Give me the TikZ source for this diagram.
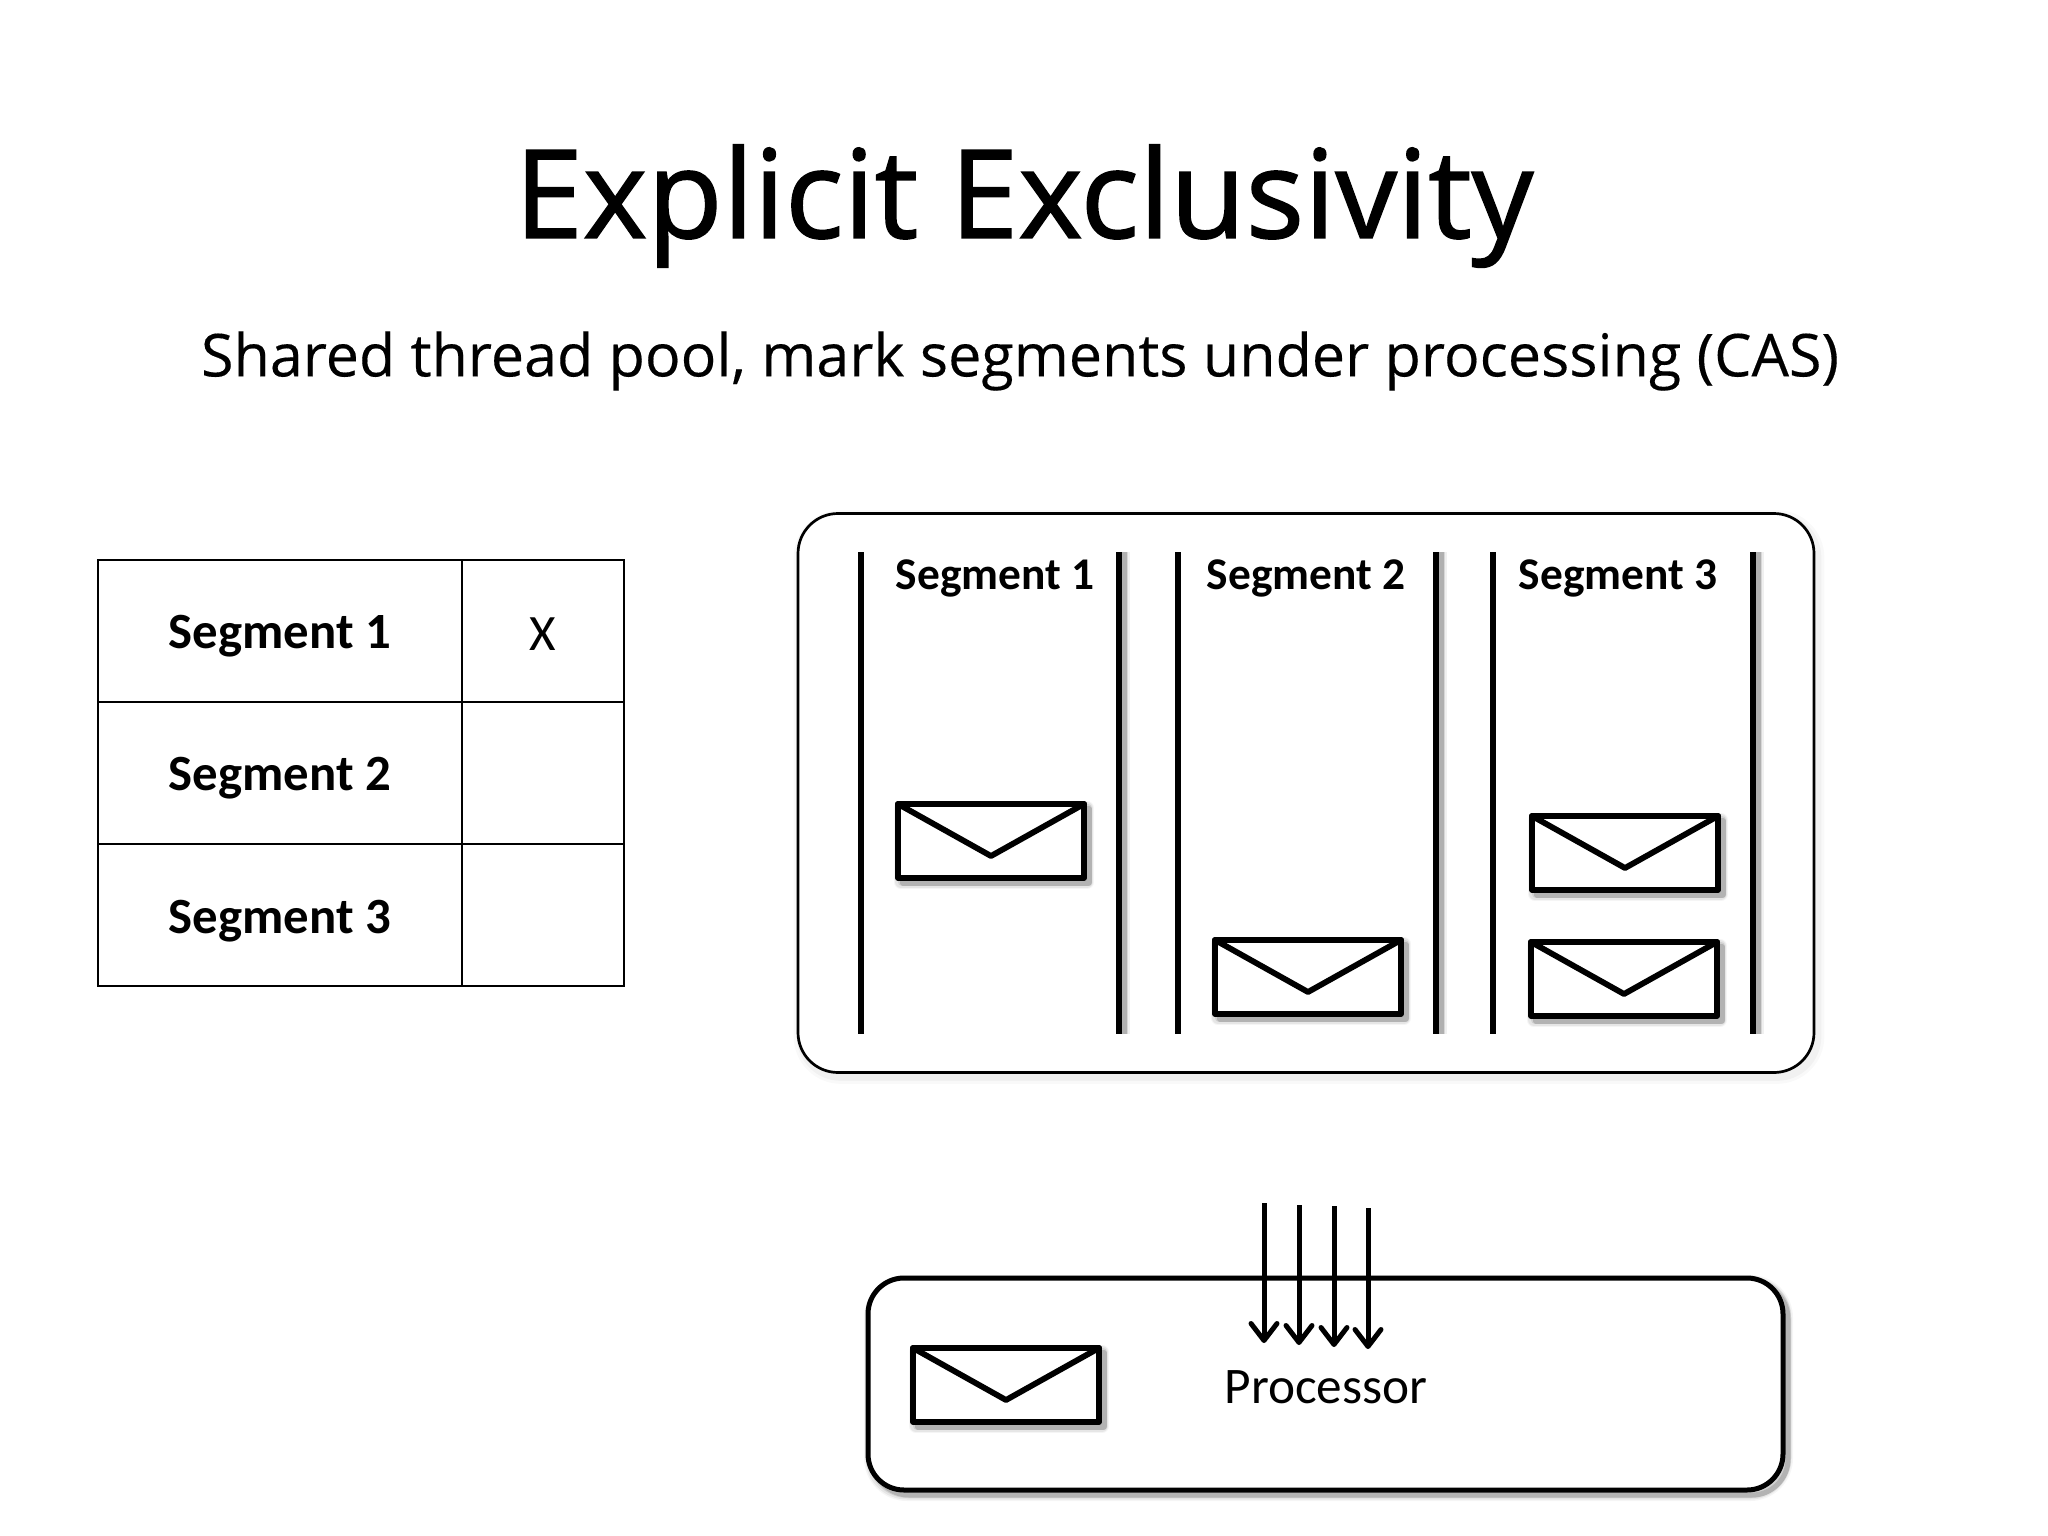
\documentclass[tikz,border=0pt]{standalone}
\usepackage{fontspec}
\setmainfont{Carlito}
\newfontfamily\titlefont{Open Sans}[FakeBold=1.2]
\newfontfamily\subfont{Open Sans}[FakeBold=0.25]
\usetikzlibrary{arrows.meta}
\tikzset{
  x=1pt,y=-1pt,
  softshadow/.style={
    preaction={draw=black,fill=none,opacity=.04,line width=#1+9pt,transform canvas={shift={(3pt,-4pt)}}},
    preaction={draw=black,fill=none,opacity=.06,line width=#1+6pt,transform canvas={shift={(3pt,-4pt)}}},
    preaction={draw=black,fill=none,opacity=.09,line width=#1+3pt,transform canvas={shift={(4pt,-4pt)}}},
    preaction={draw=black,fill=none,opacity=.14,line width=#1,transform canvas={shift={(5pt,-5pt)}}}},
  faintshadow/.style={
    preaction={draw=black,fill=none,opacity=.025,line width=#1+12pt,transform canvas={shift={(3pt,-4pt)}}},
    preaction={draw=black,fill=none,opacity=.03,line width=#1+6pt,transform canvas={shift={(3pt,-4pt)}}}},
  barshadow/.style={
    preaction={draw=black,opacity=.06,line width=#1+8pt,transform canvas={shift={(4pt,0pt)}}},
    preaction={draw=black,opacity=.1,line width=#1+4pt,transform canvas={shift={(4pt,0pt)}}},
    preaction={draw=black,opacity=.18,line width=#1,transform canvas={shift={(5pt,0pt)}}}},
  outerbox/.style={draw=black,fill=white,rounded corners=40pt,inner sep=0pt,outer sep=0pt,line width=2.7pt,minimum width=1016pt,minimum height=559pt,faintshadow=2.7pt},
  procbox/.style={draw=black,fill=white,rounded corners=36pt,inner sep=0pt,outer sep=0pt,line width=5pt,minimum width=915pt,minimum height=212pt,softshadow=5pt},
  cell/.style={draw=black,line width=2.8pt,inner sep=0pt,outer sep=0pt,minimum height=142pt},
  namecell/.style={cell,minimum width=364pt},
  markcell/.style={cell,minimum width=162pt},
  rowlabel/.style={font=\fontsize{50.8}{50.8}\selectfont\bfseries,inner sep=0pt},
  seglabel/.style={font=\fontsize{45.4}{45.4}\selectfont\bfseries,inner sep=0pt},
  env/.style={draw=black,fill=white,line width=5.8pt,line join=round,inner sep=0pt,outer sep=0pt,minimum width=186pt,minimum height=74pt,softshadow=5.8pt},
  flap/.style={draw=black,line width=5.8pt,line join=round,line cap=round},
  bar/.style={draw=black,line width=5.8pt},
  shadowbar/.style={bar,barshadow=5.8pt},
  thread/.style={draw=black,line width=5pt,-{Straight Barb[length=17pt,width=26pt,line width=5pt,round]}},
}
\newcommand{\envelope}[3]{%
  \node[env] (#1) at (#2,#3) {};
  \coordinate (#1v) at (#2,#3+15);
  \draw[flap] (#1.north west) -- (#1v) -- (#1.north east);
}
\begin{document}
\begin{tikzpicture}
\useasboundingbox (0,0) rectangle (2048,1536);
\fill[white] (0,0) rectangle (2048,1536);

\node[inner sep=0pt,font=\titlefont\fontsize{123}{123}\selectfont] (title) at (1024,206) {Explicit Exclusivity};
\node[inner sep=0pt,font=\subfont\fontsize{59.2}{59.2}\selectfont] (subtitle) at (1020,361) {Shared thread pool, mark segments under processing (CAS)};

% table
\node[namecell] (n1) at (280,631) {};
\node[namecell] (n2) at (280,773) {};
\node[namecell] (n3) at (280,915) {};
\node[markcell] (m1) at (543,631) {};
\node[markcell] (m2) at (543,773) {};
\node[markcell] (m3) at (543,915) {};
\node[rowlabel] (t1) at (280,636) {Segment 1};
\node[rowlabel] (t2) at (280,778) {Segment 2};
\node[rowlabel] (t3) at (280,921) {Segment 3};
\node[inner sep=0pt,font=\fontsize{51}{51}\selectfont] (x1) at (543,634) {X};

% segments box
\node[outerbox] (segs) at (1306,793) {};
\foreach \n/\xa/\xb in {a/861/1119,b/1178/1436,c/1493/1753}{
  \coordinate (\n1) at (\xa,552);
  \coordinate (\n2) at (\xa,1034);
  \coordinate (\n3) at (\xb,552);
  \coordinate (\n4) at (\xb,1034);
  \draw[bar] (\n1) -- (\n2);
  \draw[shadowbar] (\n3) -- (\n4);
}
\node[seglabel] (s1) at (995,578) {Segment 1};
\node[seglabel] (s2) at (1306,578) {Segment 2};
\node[seglabel] (s3) at (1618,578) {Segment 3};

\envelope{e1}{991}{841}
\envelope{e2}{1308}{977}
\envelope{e3}{1625}{853}
\envelope{e4}{1624}{979}

% processor
\node[procbox] (proc) at (1325.5,1384) {};
\node[inner sep=0pt,font=\fontsize{51.3}{51.3}\selectfont] (ptext) at (1326,1387) {Processor};
\envelope{e5}{1006}{1385}
\foreach \i/\x/\ya/\yb in {1/1264/1203/1343,2/1299/1205/1345,3/1334/1206/1347,4/1368/1208/1349}{
  \coordinate (from\i) at (\x,\ya);
  \coordinate (to\i) at (\x,\yb);
  \draw[thread] (from\i) -- (to\i);
}
\end{tikzpicture}
\end{document}
